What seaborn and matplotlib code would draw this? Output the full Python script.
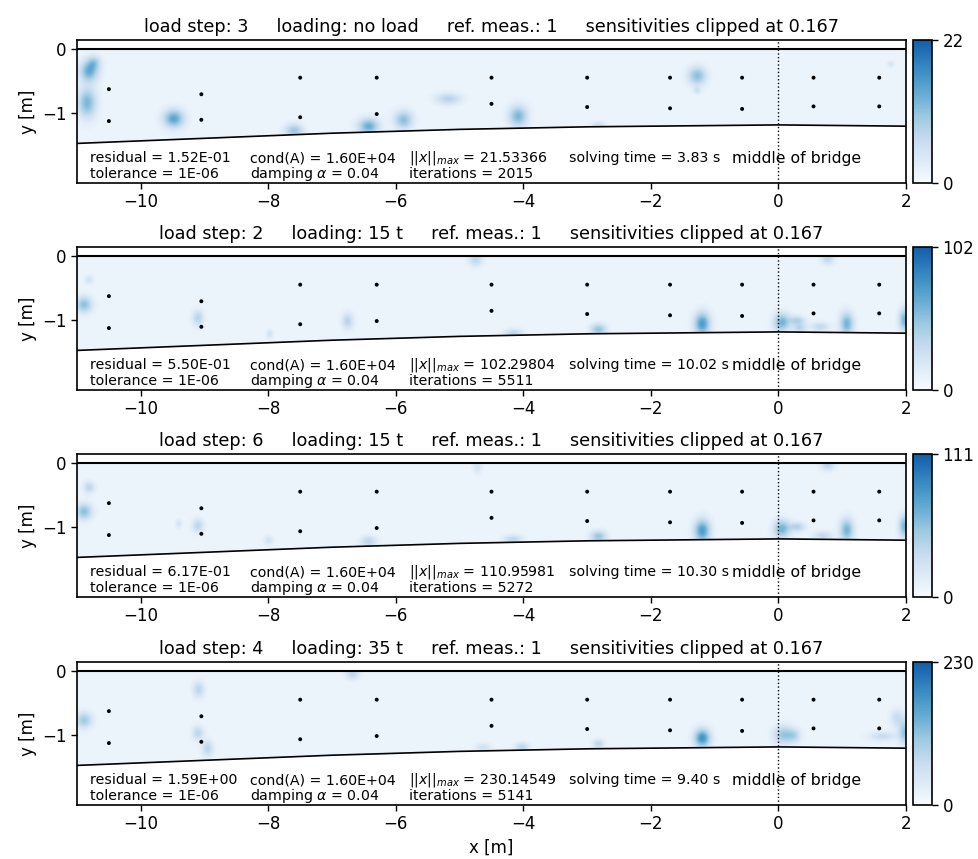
import numpy as np
import matplotlib
matplotlib.use("Agg")
import matplotlib.pyplot as plt
from matplotlib.patches import Polygon
from matplotlib.colors import LinearSegmentedColormap
import seaborn as sns
import pandas as pd

# ---------------- data ----------------
load_steps = ["3", "2", "6", "4"]
loadings = ["no load", "15 t", "15 t", "35 t"]
residuals = ["1.52E-01", "5.50E-01", "6.17E-01", "1.59E+00"]
x_max = [21.53366, 102.29804, 110.95981, 230.14549]
solve_times = [3.83, 10.02, 10.30, 9.40]
iterations = [2015, 5511, 5272, 5141]

sensor_x = [-10.5, -10.5, -9.05, -9.05, -7.5, -7.5, -6.3, -6.3, -4.5, -4.5,
            -3.0, -3.0, -1.7, -1.7, -0.57, -0.57, 0.55, 0.55, 1.58, 1.58]
sensor_y = [-0.63, -1.13, -0.71, -1.11, -0.45, -1.07, -0.45, -1.02, -0.45, -0.86,
            -0.45, -0.91, -0.45, -0.93, -0.45, -0.94, -0.45, -0.90, -0.45, -0.90]

bottom_x = [-11, -10, -9, -8, -7, -6, -5, -4, -3, -2, -1, 0, 1, 2]
bottom_y = [-1.48, -1.44, -1.40, -1.36, -1.32, -1.29, -1.26, -1.24, -1.22, -1.21,
            -1.20, -1.19, -1.20, -1.21]

# sensitivity hot spots: (x, y, level as colour fraction, sx, sy)
blobs_step3 = [(-10.82, -0.36, 0.55, 0.08, 0.09), (-10.74, -0.22, 0.30, 0.06, 0.06),
               (-10.85, -0.85, 0.50, 0.08, 0.13), (-9.49, -1.10, 0.60, 0.09, 0.08),
               (-7.60, -1.29, 0.40, 0.08, 0.06), (-6.43, -1.22, 0.55, 0.09, 0.07),
               (-5.88, -1.12, 0.45, 0.08, 0.08), (-5.18, -0.79, 0.30, 0.11, 0.05),
               (-4.08, -1.06, 0.50, 0.08, 0.09), (-1.27, -0.43, 0.45, 0.08, 0.08),
               (-1.27, -0.66, 0.18, 0.03, 0.03), (1.77, -0.25, 0.15, 0.03, 0.03),
               (-2.82, -1.20, 0.20, 0.06, 0.03)]
blobs_step2 = [(-10.90, -0.77, 0.45, 0.07, 0.07), (-10.82, -0.38, 0.15, 0.04, 0.04),
               (-9.11, -0.98, 0.30, 0.05, 0.07), (-6.76, -1.03, 0.30, 0.05, 0.07),
               (-7.98, -1.23, 0.18, 0.03, 0.04), (-4.75, -0.06, 0.28, 0.06, 0.06),
               (-4.15, -1.22, 0.28, 0.08, 0.04), (-2.82, -1.16, 0.42, 0.07, 0.05),
               (-1.19, -1.07, 0.65, 0.07, 0.10), (0.06, -1.05, 0.52, 0.07, 0.08),
               (0.30, -1.02, 0.32, 0.07, 0.04), (0.34, -1.14, 0.28, 0.06, 0.04),
               (0.66, -1.12, 0.25, 0.08, 0.04), (1.08, -1.07, 0.52, 0.06, 0.10),
               (1.99, -1.01, 0.52, 0.05, 0.10), (0.78, -0.05, 0.28, 0.06, 0.05)]
blobs_step6 = [(-10.82, -0.39, 0.28, 0.05, 0.05), (-10.90, -0.77, 0.45, 0.07, 0.07),
               (-9.41, -0.96, 0.15, 0.03, 0.04), (-9.11, -0.99, 0.28, 0.05, 0.06),
               (-8.00, -1.22, 0.18, 0.04, 0.04), (-6.43, -1.24, 0.28, 0.07, 0.05),
               (-4.72, -0.07, 0.15, 0.04, 0.06), (-4.16, -1.21, 0.28, 0.08, 0.04),
               (-2.82, -1.16, 0.42, 0.07, 0.05), (-1.19, -1.07, 0.65, 0.07, 0.10),
               (0.06, -1.04, 0.52, 0.07, 0.08), (0.30, -1.01, 0.32, 0.07, 0.04),
               (0.71, -1.15, 0.25, 0.08, 0.04), (1.08, -1.06, 0.52, 0.06, 0.10),
               (1.99, -1.00, 0.52, 0.05, 0.10), (0.78, -0.04, 0.28, 0.06, 0.05)]
blobs_step4 = [(-10.90, -0.78, 0.38, 0.07, 0.07), (-9.10, -0.30, 0.28, 0.05, 0.07),
               (-9.11, -0.98, 0.28, 0.05, 0.06), (-8.96, -1.22, 0.28, 0.05, 0.07),
               (-6.68, -0.05, 0.28, 0.06, 0.05), (-4.63, -1.21, 0.18, 0.07, 0.04),
               (-4.02, -1.20, 0.28, 0.06, 0.04), (-2.82, -1.15, 0.28, 0.05, 0.04),
               (-1.19, -1.06, 0.70, 0.07, 0.08), (0.08, -1.01, 0.40, 0.08, 0.08),
               (0.25, -1.02, 0.28, 0.06, 0.06), (1.65, -1.03, 0.22, 0.12, 0.04),
               (1.87, -0.75, 0.22, 0.06, 0.08), (1.99, -0.97, 0.42, 0.05, 0.10)]
blobs_all = [blobs_step3, blobs_step2, blobs_step6, blobs_step4]
base_level = 0.065
blob_spread = 1.25  # rendering softness of the hot spots

# ---------------- figure ----------------
plt.rcParams['font.family'] = ['DejaVu Sans']
fig = plt.figure(figsize=(9.79, 8.59), dpi=100)
W, H = 979.0, 859.0
tops = [40, 247, 454, 662]
ax_h = 143
left, right = 77, 906

blues = plt.get_cmap("Blues")
cmap = LinearSegmentedColormap.from_list("blues_tr", blues(np.linspace(0, 0.82, 256)))

gx = np.linspace(-11, 2, 651)
gy = np.linspace(-1.6, 0.0, 121)
Xg, Yg = np.meshgrid(gx, gy)

xlim = (-11, 2)
ylim = (-2.10, 0.14)

sensors = pd.DataFrame({"x": sensor_x, "y": sensor_y})

for i in range(4):
    top = tops[i]
    ax = fig.add_axes([left / W, 1 - (top + ax_h) / H, (right - left) / W, ax_h / H])
    cax = fig.add_axes([913 / W, 1 - (top + ax_h) / H, 19 / W, ax_h / H])
    vmax = x_max[i]

    frac = np.full_like(Xg, base_level)
    for (bx, by, a, sx, sy) in blobs_all[i]:
        sx, sy = sx * blob_spread, sy * blob_spread
        frac += a * np.exp(-((Xg - bx) ** 2 / (2 * sx ** 2) + (Yg - by) ** 2 / (2 * sy ** 2)))
    frac = np.clip(frac, 0, 1)
    Z = frac * vmax

    im = ax.imshow(Z, extent=[gx[0], gx[-1], gy[0], gy[-1]], origin="lower",
                   aspect="auto", cmap=cmap, vmin=0, vmax=vmax, interpolation="bilinear",
                   zorder=1)
    verts = np.column_stack([np.r_[bottom_x, bottom_x[::-1]],
                             np.r_[bottom_y, np.zeros(len(bottom_x))]])
    clip = Polygon(verts, closed=True, transform=ax.transData)
    im.set_clip_path(clip)

    ax.plot(bottom_x, bottom_y, color="black", lw=1.2, zorder=3)
    ax.plot([xlim[0], xlim[1]], [0, 0], color="black", lw=1.5, zorder=3)
    ax.plot([0, 0], [ylim[0], ylim[1]], color="black", lw=1.0, ls=":", zorder=4)

    sns.scatterplot(data=sensors, x="x", y="y", ax=ax, color="black", s=8,
                    marker="o", edgecolor="none", zorder=5, legend=False)

    ax.set_xlim(*xlim)
    ax.set_ylim(*ylim)
    ax.set_xticks([-10, -8, -6, -4, -2, 0, 2])
    ax.set_yticks([0, -1])
    ax.tick_params(labelsize=12, width=1.0, length=4)
    for sp in ax.spines.values():
        sp.set_linewidth(1.2)
    ax.set_ylabel("y [m]", fontsize=12)
    ax.set_xlabel("x [m]" if i == 3 else "", fontsize=12)

    ax.set_title(f"load step: {load_steps[i]}     loading: {loadings[i]}     "
                 f"ref. meas.: 1     sensitivities clipped at 0.167", fontsize=12.7, pad=6)

    fs = 10.2
    y1, y2 = -1.71, -1.96
    ax.text(-10.79, y1, f"residual = {residuals[i]}", fontsize=fs, va="center", ha="left")
    ax.text(-10.79, y2, "tolerance = 1E-06", fontsize=fs, va="center", ha="left")
    ax.text(-8.28, y1, "cond(A) = 1.60E+04", fontsize=fs, va="center", ha="left")
    ax.text(-8.28, y2, r"damping $\alpha$ = 0.04", fontsize=fs, va="center", ha="left")
    ax.text(-5.79, y1, r"$||x||_{max}$ = " + f"{x_max[i]:.5f}", fontsize=fs, va="center", ha="left")
    ax.text(-5.79, y2, f"iterations = {iterations[i]}", fontsize=fs, va="center", ha="left")
    ax.text(-3.28, y1, f"solving time = {solve_times[i]:.2f} s", fontsize=fs, va="center", ha="left")
    ax.text(-0.73, y1, "middle of bridge", fontsize=11.3, va="center", ha="left")

    cb = fig.colorbar(im, cax=cax, ticks=[0, vmax])
    cb.ax.set_yticklabels(["0", f"{vmax:.0f}"])
    cb.ax.tick_params(labelsize=12, width=1.0, length=4)
    cb.outline.set_linewidth(1.2)

fig.savefig("out.png", dpi=100)
